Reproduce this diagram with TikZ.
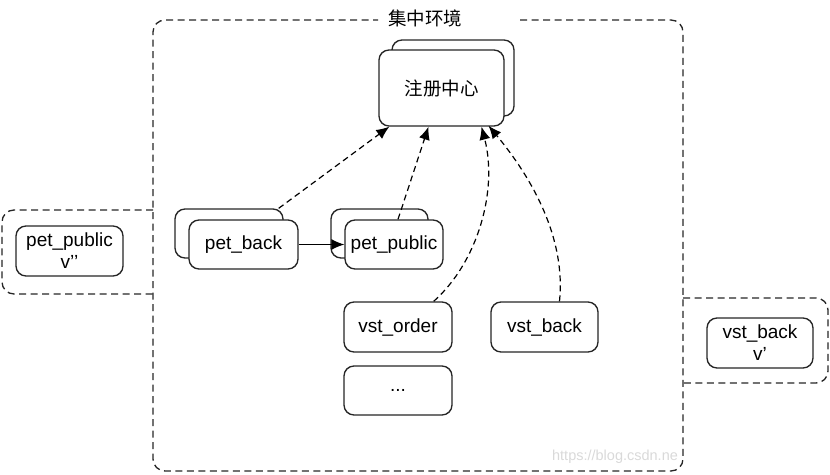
\documentclass[tikz,border=0pt]{standalone}
\usepackage{fontspec}
\setmainfont{Liberation Sans}
\newfontfamily\cjk{Noto Sans CJK SC}
\usetikzlibrary{positioning,arrows.meta}

\begin{document}
\begin{tikzpicture}
		[x=1pt,y=-1pt,
		block/.style ={rectangle, draw=black!85, line width=1.35pt, fill=white, rounded corners=10pt, align=center, inner sep=0pt, font=\fontsize{19}{22}\selectfont},
		frame/.style ={draw=black!85, line width=1.35pt, dash pattern=on 7pt off 4.5pt, rounded corners=12pt},
		link/.style ={draw=black, line width=1.2pt, dash pattern=on 6pt off 4pt, -{Latex[length=13pt,width=11pt]}},
		]
		\useasboundingbox (0,0) rectangle (830,474);

		% frames
		\draw (425,18) node[font=\cjk\fontsize{18.5}{21}\selectfont] (T) {集中环境};
		\draw[frame] (520,20) -- (683,20) -- (683,471) -- (153,471) -- (153,20) -- (378,20);
		\draw[frame] (153,210) -- (2,210) -- (2,294) -- (153,294);
		\draw[frame] (683,298) -- (828,298) -- (828,383) -- (683,383);
		\draw (615,457) node[text=black!15, font=\fontsize{14.5}{16}\selectfont] (W) {https://blog.csdn.ne};

		% boxes
		\draw (453,78) node[block, minimum width=122pt, minimum height=76pt] (RCb) {};
		\draw (441.5,88) node[block, minimum width=125pt, minimum height=76pt, font=\cjk\fontsize{18.5}{21}\selectfont] (RC) {注册中心};
		\draw (229,233.5) node[block, minimum width=108pt, minimum height=49pt] (PBb) {};
		\draw (243.5,244.5) node[block, minimum width=109pt, minimum height=49pt] (PB) {pet\_back};
		\draw (379.5,233.5) node[block, minimum width=97pt, minimum height=49pt] (PPb) {};
		\draw (394,244.5) node[block, minimum width=98pt, minimum height=49pt] (PP) {pet\_public};
		\draw (398,327) node[block, minimum width=108pt, minimum height=50pt] (VO) {vst\_order};
		\draw (544.5,327) node[block, minimum width=107pt, minimum height=50pt] (VB) {vst\_back};
		\draw (398,390.5) node[block, minimum width=108pt, minimum height=49pt] (ETC) {...};
		\draw (69.5,251) node[block, minimum width=107pt, minimum height=50pt] (PPv) {pet\_public\\v’’};
		\draw (760,343) node[block, minimum width=106pt, minimum height=50pt] (VBv) {vst\_back\\v’};

		% links
		\draw[link] ([xshift=-5pt]PBb.north east) -- ([xshift=11pt]RC.south west);
		\draw[link] ([xshift=4pt]PP.north) -- ([xshift=-13pt]RC.south);
		\draw[link] ([xshift=-19pt]VO.north east) .. controls (478,262) and (498,190) .. ([xshift=40pt]RC.south);
		\draw[link] ([xshift=15pt]VB.north) .. controls (566,238) and (532,178) .. ([xshift=47pt,yshift=1pt]RC.south);
		\draw[draw=black, line width=1.2pt, -{Latex[length=13pt,width=11pt]}] (PB) -- (PP);
	\end{tikzpicture}
\end{document}
